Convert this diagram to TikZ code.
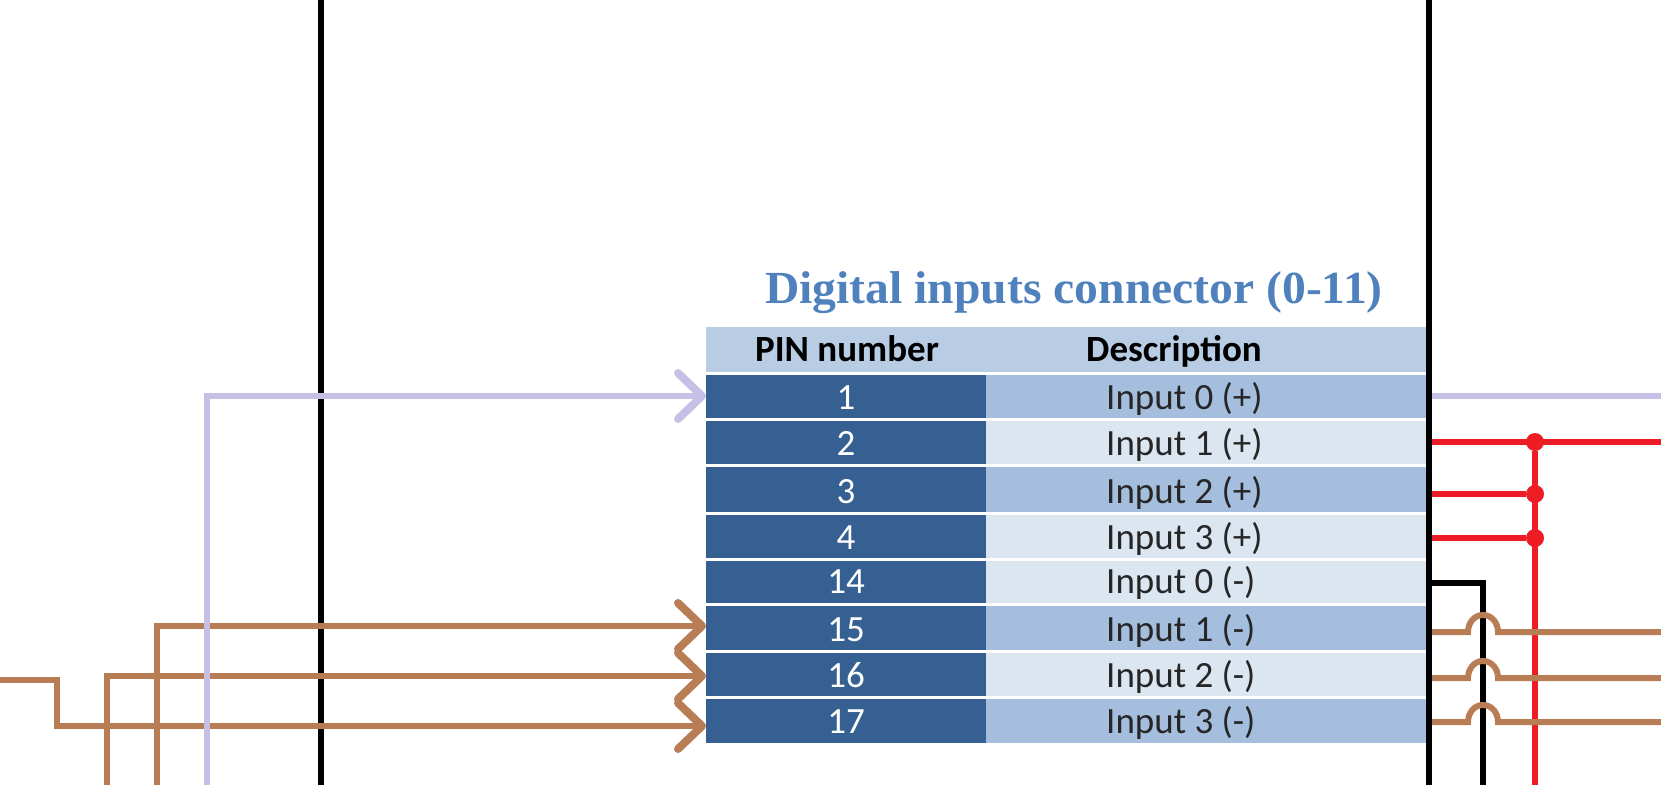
\documentclass[tikz,border=0pt]{standalone}
\usepackage{fontspec}
\setmainfont{Carlito}
\newfontfamily\titlefont{Liberation Serif}
\usetikzlibrary{arrows.meta}
\definecolor{hdr}{HTML}{B8CCE4}
\definecolor{dark}{HTML}{366092}
\definecolor{mid}{HTML}{A5BEDE}
\definecolor{light}{HTML}{DCE6F1}
\definecolor{ttl}{HTML}{4F81BD}
\definecolor{lav}{HTML}{C6BFE6}
\definecolor{brn}{HTML}{B97D56}
\definecolor{rd}{HTML}{EE1C25}
\tikzset{
 x=1pt,y=-1pt,
 txt/.style={font=\fontsize{37}{40}\selectfont},
 btxt/.style={font=\fontsize{37}{40}\selectfont\bfseries},
 wire/.style={line width=6pt,line join=miter},
 border/.style={line width=6pt,black},
 barb/.style={-{Straight Barb[length=24pt,width=46pt,line width=8pt,round]}},
 dot/.style={circle,fill=rd,minimum size=18pt,inner sep=0pt},
 hump/.style={wire,brn}
}
\begin{document}
\begin{tikzpicture}
\useasboundingbox (0,0) rectangle (1661,785);
\fill[white] (0,0) rectangle (1661,785);
% table backgrounds
\fill[hdr] (706,327) rectangle (1427,372);
\foreach \a/\b/\c in {375/418/mid,421/464/light,467/512/mid,515/558/light,561/603/light,606/650/mid,653/696/light,699/743/mid}{
  \fill[dark] (706,\a) rectangle (986,\b);
  \fill[\c] (986,\a) rectangle (1427,\b);
}
% text
\node[btxt,anchor=base,inner sep=0pt] (hpin) at (847,361) {PIN number};
\node[btxt,anchor=base,inner sep=0pt] (hdesc) at (1174,361) {Description};
\foreach \n/\pin/\desc/\base in {a/1/Input 0 (+)/409,b/2/Input 1 (+)/455,c/3/Input 2 (+)/503,d/4/Input 3 (+)/549,e/14/Input 0 (-)/593,f/15/Input 1 (-)/641,g/16/Input 2 (-)/687,h/17/Input 3 (-)/733}{
  \node[txt,text=white,anchor=base,inner sep=0pt] (p\n) at (846,\base) {\pin};
  \node[txt,text=black!85,anchor=base west,inner sep=0pt] (q\n) at (1106,\base) {\desc};
}
\node[anchor=base,text=ttl,inner sep=0pt] (title) at (1074,303) {\scalebox{1.035}[1]{\titlefont\fontsize{46}{50}\selectfont\bfseries Digital inputs connector (0-11)}};
% named points on the table's left edge
\coordinate (la) at (706,396);
\coordinate (lf) at (706,626);
\coordinate (lg) at (706,676);
\coordinate (lh) at (706,726);
% left border first: wires pass over it
\coordinate (bl0) at (321,0); \coordinate (bl1) at (321,785);
\draw[border] (bl0) -- (bl1);
% left wires
\coordinate (s1) at (157,785);
\coordinate (s2) at (107,785);
\coordinate (s3) at (0,680);
\coordinate (s3b) at (57,680);
\coordinate (s4) at (207,785);
\draw[wire,brn,barb] (s1) |- (lf);
\draw[wire,brn,barb] (s2) |- (lg);
\draw[wire,brn,barb] (s3) -- (s3b) |- (lh);
\draw[wire,lav,barb] (s4) |- (la);
% right wires
\coordinate (e1) at (1661,396); \coordinate (r1) at (1432,396);
\coordinate (e2) at (1661,442); \coordinate (r2) at (1432,442);
\coordinate (r3) at (1432,494);
\coordinate (r4) at (1432,538);
\coordinate (bus) at (1535,785);
\coordinate (blk0) at (1429,583); \coordinate (blk1) at (1483,583); \coordinate (blk2) at (1483,785);
\draw[wire,lav] (r1) -- (e1);
\node[dot] (da) at (1535,442) {};
\node[dot] (db) at (1535,494) {};
\node[dot] (dc) at (1535,538) {};
\draw[wire,rd] (r2) -- (e2);
\draw[wire,rd] (r3) -- (db);
\draw[wire,rd] (r4) -- (dc);
\draw[wire,rd] (da) -- (bus);
\draw[wire,black] (blk0) -- (blk1) -- (blk2);
\foreach \y in {632,678,722}{
 \coordinate (hs) at (1432,\y);
 \coordinate (he) at (1661,\y);
 \draw[hump] (hs) -- (1468,\y) .. controls (1468,{\y-9}) and (1474,{\y-17}) .. (1483,{\y-17}) .. controls (1492,{\y-17}) and (1498,{\y-9}) .. (1498,\y) -- (he);
}
\coordinate (br0) at (1429,0); \coordinate (br1) at (1429,785);
\draw[border] (br0) -- (br1);
\end{tikzpicture}
\end{document}
